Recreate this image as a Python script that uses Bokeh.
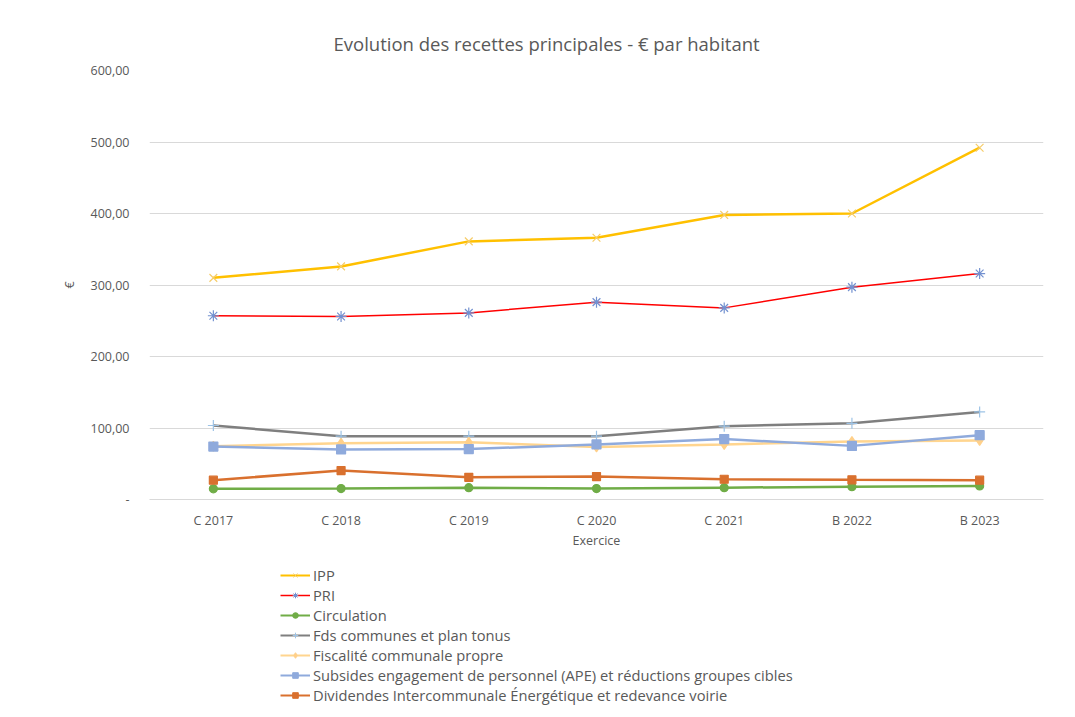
from bokeh.plotting import figure
from bokeh.layouts import column
from bokeh.models import FactorRange, Range1d, Legend, LegendItem, CustomJSTickFormatter, SingleIntervalTicker
from bokeh.embed import file_html
from bokeh.resources import INLINE

years = ["C 2017", "C 2018", "C 2019", "C 2020", "C 2021", "B 2022", "B 2023"]
ipp = [310, 326, 361, 366, 398, 400, 492]
pri = [257, 256, 261, 276, 268, 297, 316]
circulation = [15, 15.3, 16.5, 15.3, 16.5, 18, 19]
fds = [103.5, 88.5, 88.5, 88.5, 102.5, 106.5, 122.5]
fiscalite = [74.5, 78.5, 80, 73.5, 77, 81, 82.5]
subsides = [74, 70, 70.5, 77, 84.5, 75, 90]
dividendes = [27, 40.5, 31, 32, 28.3, 27.5, 27]

series = [
    ("IPP", ipp, "#FFC000", 2.5, "x", "#F6CD6A", 11),
    ("PRI", pri, "#FF0000", 1.5, "asterisk", "#7391D0", 11),
    ("Circulation", circulation, "#70AD47", 2.5, "circle", "#70AD47", 8),
    ("Fds communes et plan tonus", fds, "#7F7F7F", 2.5, "cross", "#9DC3E6", 11),
    ("Fiscalité communale propre", fiscalite, "#FFD58F", 2.5, "diamond", "#FFD08A", 10),
    ("Subsides engagement de personnel (APE) et réductions groupes cibles", subsides, "#8FAADC", 2.5, "square", "#8FAADC", 9),
    ("Dividendes Intercommunale Énergétique et redevance voirie", dividendes, "#D9702E", 2.5, "square", "#D9702E", 8),
]

FONT = "Open Sans"
GREY = "#595959"

p = figure(width=1059, height=554, x_range=FactorRange(*years), y_range=Range1d(0, 600),
           output_backend="svg", toolbar_location=None,
           min_border_left=149, min_border_right=16, min_border_top=70, min_border_bottom=55)
p.title.text = "Evolution des recettes principales - € par habitant"
p.title.align = "left"
p.title.text_font = FONT
p.title.text_font_size = "18.5px"
p.title.text_font_style = "normal"
p.title.text_color = GREY
p.title.offset = 184
p.title.standoff = 30

p.outline_line_color = None
p.xgrid.grid_line_color = None
p.ygrid.grid_line_color = "#D9D9D9"
p.ygrid.grid_line_width = 1

p.yaxis.ticker = SingleIntervalTicker(interval=100)
p.yaxis.formatter = CustomJSTickFormatter(code="""
if (tick == 0) { return "-"; }
return tick.toFixed(2).replace(".", ",");
""")
for ax in (p.xaxis, p.yaxis):
    ax.major_tick_line_color = None
    ax.minor_tick_line_color = None
    ax.major_label_text_font = FONT
    ax.major_label_text_font_size = "12.5px"
    ax.major_label_text_color = GREY
    ax.axis_label_text_font = FONT
    ax.axis_label_text_font_size = "12.5px"
    ax.axis_label_text_font_style = "normal"
    ax.axis_label_text_color = GREY
p.yaxis.axis_line_color = None
p.xaxis.axis_line_color = "#D9D9D9"
p.yaxis.major_label_standoff = 14
p.xaxis.major_label_standoff = 6
p.yaxis.axis_label = "€"
p.yaxis.axis_label_standoff = 10
p.xaxis.axis_label = "Exercice"
p.xaxis.axis_label_standoff = 0

for name, vals, lc, lw, marker, mc, ms in series:
    p.line(years, vals, line_color=lc, line_width=lw)
    p.scatter(years, vals, marker=marker, size=ms, line_color=mc, fill_color=mc, line_width=1.2)

# legend panel below the chart (its own series are kept out of view)
lp = figure(width=1059, height=157, x_range=FactorRange(*years), y_range=Range1d(1000, 1001),
            output_backend="svg", toolbar_location=None, x_axis_type=None, y_axis_type=None,
            min_border_left=0, min_border_right=0, min_border_top=0, min_border_bottom=0)
lp.outline_line_color = None
lp.xgrid.visible = False
lp.ygrid.visible = False
items = []
for name, vals, lc, lw, marker, mc, ms in series:
    r1 = lp.line(years, vals, line_color=lc, line_width=min(lw, 2))
    r2 = lp.scatter(years, vals, marker=marker, size=ms * 0.6, line_color=mc, fill_color=mc, line_width=1)
    items.append(LegendItem(label=name, renderers=[r1, r2]))

legend = Legend(items=items, location=(131, 6), orientation="vertical",
                label_text_font=FONT, label_text_font_size="14.7px", label_text_color=GREY,
                glyph_width=30, glyph_height=14, label_height=20, spacing=0,
                padding=0, margin=0, border_line_color=None, background_fill_alpha=0,
                label_standoff=3)
lp.add_layout(legend, "center")

layout = column(p, lp, spacing=0)
open("out.html", "w").write(file_html(layout, INLINE))
